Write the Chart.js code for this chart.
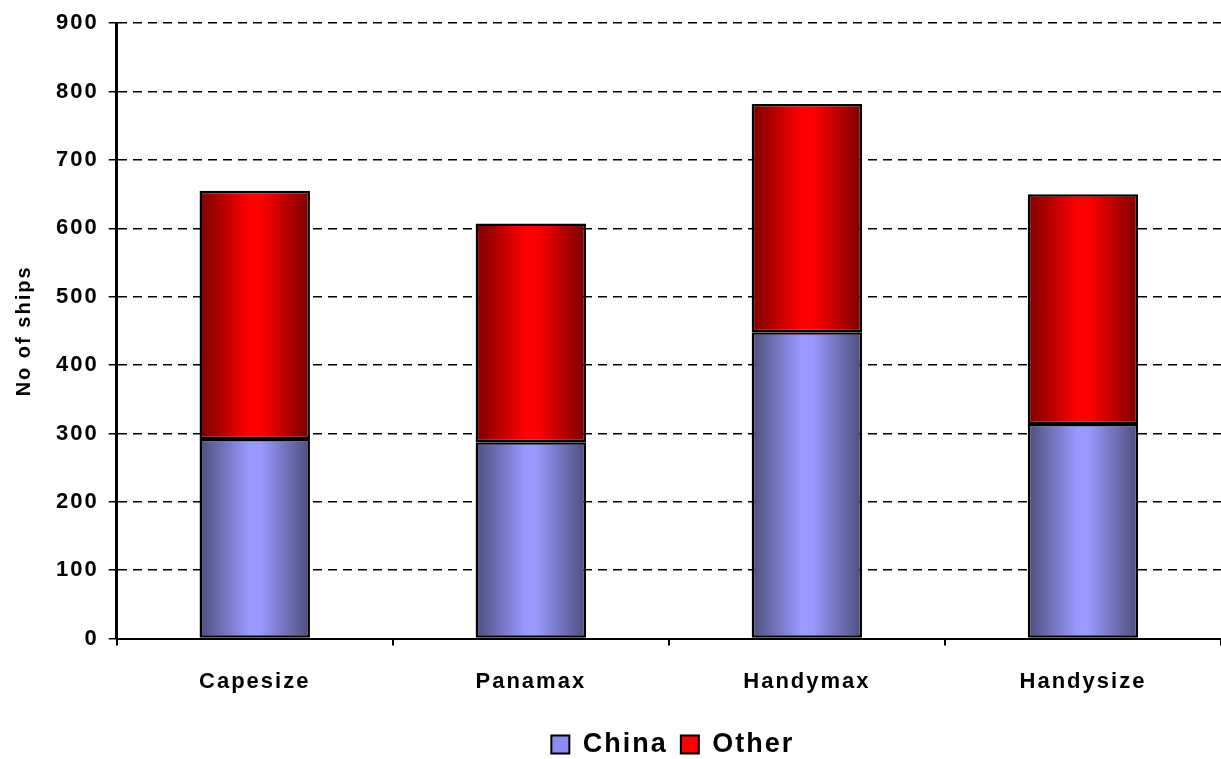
<!DOCTYPE html>
<html>
<head>
<meta charset="utf-8">
<script src="https://cdn.jsdelivr.net/npm/chart.js@4/dist/chart.umd.min.js"></script>
<style>
  html, body { margin: 0; padding: 0; background: #fff; }
  #wrap { width: 1221px; height: 759px; }
</style>
</head>
<body>
<div id="wrap"><canvas id="ships"></canvas></div>
<script>
const categories = ["Capesize", "Panamax", "Handymax", "Handysize"];
const china = [292, 287, 448, 314];
const other = [363, 320, 334, 336];
const yTicks = [0, 100, 200, 300, 400, 500, 600, 700, 800, 900];

// horizontal shading across each bar: dark edges, bright middle
function barShade(dark, light) {
    return (ctx) => {
        const chart = ctx.chart;
        if (!chart.chartArea || !chart.scales.x) return light;
        const x = chart.scales.x.getPixelForValue(ctx.dataIndex);
        const half = chart.scales.x.width / categories.length * 0.4 / 2;
        const g = chart.ctx.createLinearGradient(x - half, 0, x + half, 0);
        g.addColorStop(0, dark);
        g.addColorStop(0.45, light);
        g.addColorStop(0.55, light);
        g.addColorStop(1, dark);
        return g;
    };
}

// the old spreadsheet text is spaced out a bit (canvas resize clears it, so set it each pass)
// legend sits centred under the plot, not the whole canvas
const tweaks = {
    id: "tweaks",
    beforeLayout(chart) { chart.ctx.letterSpacing = "2px"; },
    afterLayout(chart) {
        const shift = chart.chartArea.left / 2;
        chart.legend.left += shift;
        chart.legend.right += shift;
    },
    beforeDraw(chart) { chart.ctx.letterSpacing = "2px"; }
};

const ctx = document.getElementById("ships").getContext("2d");
const chart = new Chart(ctx, {
    type: "bar",
    data: {
        labels: categories,
        datasets: [{
            label: "China",
            data: china,
            backgroundColor: barShade("#4d4d7d", "#9999ff"),
            borderColor: "#000",
            borderWidth: 2.5,
            borderSkipped: false,
            categoryPercentage: 1,
            barPercentage: 0.4
        }, {
            label: "Other",
            data: other,
            backgroundColor: barShade("#7a0000", "#ff0000"),
            borderColor: "#000",
            borderWidth: 2.5,
            borderSkipped: false,
            categoryPercentage: 1,
            barPercentage: 0.4
        }]
    },
    options: {
        responsive: true,
        maintainAspectRatio: false,
        animation: false,
        layout: { padding: { top: -3, right: 0, left: 8, bottom: -9 } },
        scales: {
            x: {
                stacked: true,
                grid: {
                    offset: true,
                    drawOnChartArea: false,
                    color: "#000",
                    lineWidth: 2,
                    tickLength: 7
                },
                border: { color: "#000", width: 2 },
                ticks: {
                    color: "#000",
                    padding: 23,
                    font: { family: "Liberation Sans, Arial", size: 22, weight: "bold" }
                }
            },
            y: {
                stacked: true,
                min: 0,
                max: 900,
                afterBuildTicks: (axis) => { axis.ticks = yTicks.map(v => ({ value: v })); },
                grid: {
                    color: "#000",
                    lineWidth: 1.5,
                    tickLength: 8,
                    tickBorderDash: [0, 0]
                },
                border: { color: "#000", width: 3, dash: [9, 6] },
                ticks: {
                    color: "#000",
                    padding: 10,
                    font: { family: "Liberation Sans, Arial", size: 22, weight: "bold" }
                },
                title: {
                    display: true,
                    text: "No of ships",
                    color: "#000",
                    padding: { bottom: 10 },
                    font: { family: "Liberation Sans, Arial", size: 20, weight: "bold" }
                }
            }
        },
        plugins: {
            tooltip: { enabled: false },
            legend: {
                position: "bottom",
                labels: {
                    color: "#000",
                    boxWidth: 18,
                    boxHeight: 18,
                    padding: 13,
                    font: { family: "Liberation Sans, Arial", size: 27, weight: "bold" },
                    generateLabels: () => [
                        { text: "China", fillStyle: "#8c8cf0", strokeStyle: "#000", lineWidth: 2, datasetIndex: 0 },
                        { text: "Other", fillStyle: "#ff0000", strokeStyle: "#000", lineWidth: 2, datasetIndex: 1 }
                    ]
                }
            }
        }
    },
    plugins: [tweaks]
});
</script>
</body>
</html>
